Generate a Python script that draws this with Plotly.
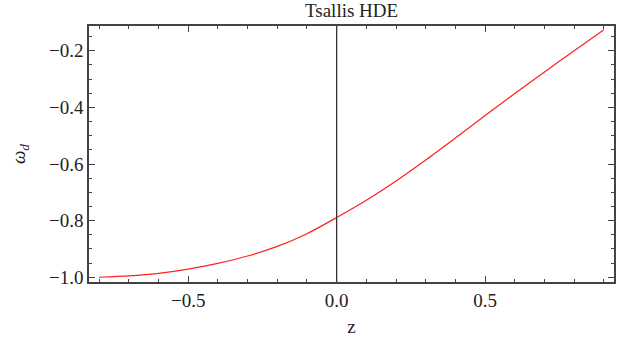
import plotly.graph_objects as go

z_vals = [-0.8, -0.7, -0.6, -0.5, -0.4, -0.3, -0.2, -0.1, 0.0,
          0.1, 0.2, 0.3, 0.4, 0.5, 0.6, 0.7, 0.8, 0.9]
omega_d = [-1.000, -0.995, -0.986, -0.971, -0.951, -0.925, -0.891, -0.846, -0.789,
           -0.728, -0.660, -0.586, -0.508, -0.429, -0.351, -0.275, -0.200, -0.126]

title_text = "Tsallis HDE"
x_title = "z"
y_title = "<i>ω</i><sub><i>d</i></sub>"

FONT = "Liberation Serif, DejaVu Serif, serif"
AX = "#444444"
TXT = "#222222"
FS = 19

fig = go.Figure()
fig.add_trace(go.Scatter(x=z_vals, y=omega_d, mode="lines",
                         line=dict(color="#ff2020", width=1.2, shape="spline", smoothing=0.8),
                         showlegend=False, hoverinfo="skip"))

fig.add_shape(type="line", xref="x", yref="paper", x0=0, x1=0, y0=0, y1=1,
              line=dict(color="#333333", width=1.3))

fig.add_annotation(text=title_text, xref="paper", yref="paper", x=0.5, y=1,
                   xanchor="center", yanchor="bottom", yshift=3, showarrow=False,
                   font=dict(family=FONT, size=FS, color=TXT))

fig.update_layout(
    width=628, height=347,
    margin=dict(l=89, r=12, t=26, b=65),
    paper_bgcolor="white", plot_bgcolor="white",
    font=dict(family=FONT, size=FS, color=TXT),
)

fig.update_xaxes(range=[-0.834, 0.934], tickvals=[-0.5, 0.0, 0.5],
                 ticktext=["−0.5", "0.0", "0.5"],
                 ticks="inside", ticklen=6, tickwidth=1, tickcolor=AX,
                 minor=dict(dtick=0.1, tick0=0, ticks="inside", ticklen=3.5,
                            tickwidth=1, tickcolor=AX),
                 showline=True, linecolor=AX, linewidth=1.5, mirror="ticks",
                 showgrid=False, zeroline=False,
                 title=dict(text=x_title, standoff=10,
                            font=dict(family=FONT, size=FS, color=TXT)),
                 tickfont=dict(family=FONT, size=FS, color=TXT))

fig.update_yaxes(range=[-1.0167, -0.1126], tickvals=[-1.0, -0.8, -0.6, -0.4, -0.2],
                 ticktext=["−1.0", "−0.8", "−0.6", "−0.4", "−0.2"],
                 ticks="inside", ticklen=6, tickwidth=1, tickcolor=AX,
                 minor=dict(dtick=0.05, tick0=0, ticks="inside", ticklen=3.5,
                            tickwidth=1, tickcolor=AX),
                 showline=True, linecolor=AX, linewidth=1.5, mirror="ticks",
                 showgrid=False, zeroline=False,
                 title=dict(text=y_title, standoff=18,
                            font=dict(family=FONT, size=FS, color=TXT)),
                 tickfont=dict(family=FONT, size=FS, color=TXT))

fig.write_html("out.html")
